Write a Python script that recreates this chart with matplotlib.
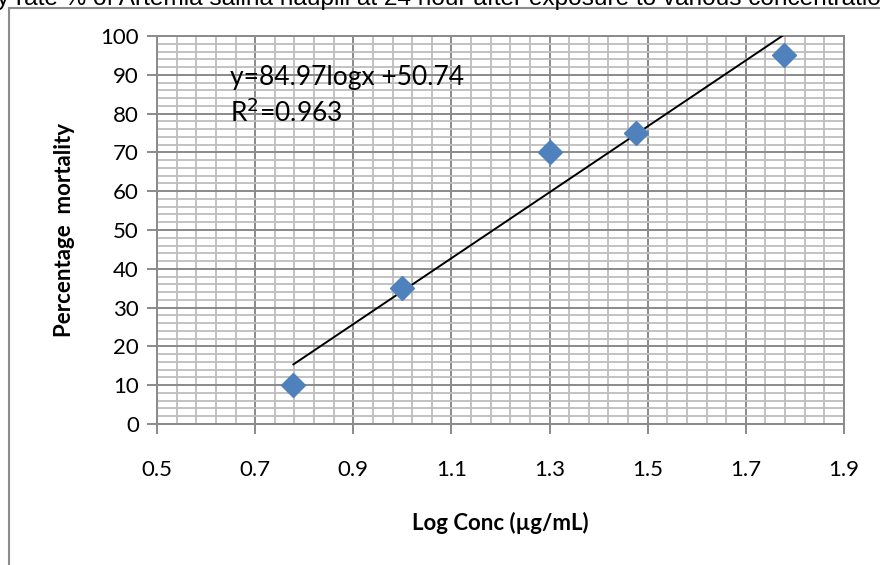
import numpy as np
import matplotlib.pyplot as plt
from matplotlib.ticker import MultipleLocator
from matplotlib.patches import Rectangle

# log10 of concentrations 6, 10, 20, 30, 60 ug/mL
log_conc = [0.778, 1.0, 1.301, 1.477, 1.778]
mortality = [10, 35, 70, 75, 95]
slope, intercept = 84.97, -50.74

plt.rcParams['font.family'] = ['Lato', 'DejaVu Sans']

fig = plt.figure(figsize=(8.8, 5.65), dpi=100)
ax = fig.add_axes([157/880, 1-424/565, (844-157)/880, (424-36)/565])

# outer chart frame, cut off on the right and bottom
fig.patches.append(Rectangle((9/880, -0.1), 1.2, 1-8/565+0.1, transform=fig.transFigure,
                             fill=False, edgecolor='#8c8c8c', linewidth=1.5))
# caption above the chart, cut off at the top edge as in the source
fig.text(-0.003, 1-5/565, 'y rate % of Artemia salina nauplii at 24 hour after exposure to various concentrations',
         family='Liberation Sans', fontsize=17.6, va='baseline', ha='left')

ax.set_xlim(0.5, 1.9)
ax.set_ylim(0, 100)
ax.xaxis.set_minor_locator(MultipleLocator(0.04, offset=0.5))
ax.yaxis.set_major_locator(MultipleLocator(10))
ax.yaxis.set_minor_locator(MultipleLocator(2))
ax.grid(which='minor', color='#bdbdbd', linewidth=1.3)
ax.grid(which='major', color='#8a8a8a', linewidth=1.4)
ax.set_axisbelow(True)
for s in ax.spines.values():
    s.set_color('#8a8a8a')
    s.set_linewidth(1.4)
ax.tick_params(which='minor', length=0)
ax.tick_params(which='major', length=7, color='#8a8a8a', width=1.4, labelsize=16)
ax.tick_params(axis='x', pad=19)
ax.tick_params(axis='y', pad=6)
xt = np.arange(0.5, 1.91, 0.2)
ax.set_xticks(xt)
ax.set_xticklabels([f'{v:.1f}' for v in xt])

xf = np.array([min(log_conc), max(log_conc)])
ax.plot(xf, slope*xf + intercept, color='black', linewidth=1.4, zorder=3)
ax.plot(log_conc, mortality, linestyle='none', marker='D', markersize=12,
        color='#4f81bd', zorder=4)

ax.text(0.649, 89.2, 'y=84.97logx +50.74', fontsize=19, va='center')
ax.text(0.649, 80.2, 'R$^2$=0.963', fontsize=19, va='center')

ax.set_xlabel('Log Conc (µg/mL)', fontsize=16, fontweight='bold', labelpad=23)
ax.set_ylabel('Percentage  mortality', fontsize=16, fontweight='bold', labelpad=18)

fig.savefig('out.png', dpi=100)
